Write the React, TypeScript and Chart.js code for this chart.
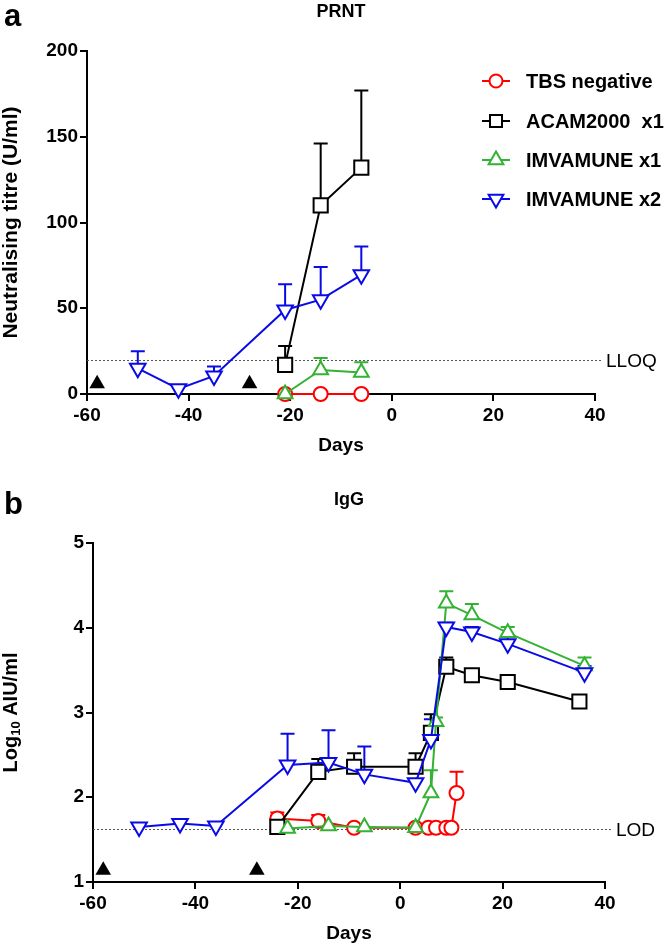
import React, { useEffect, useRef } from "react";
import { Chart, registerables } from "chart.js";
Chart.register(...registerables);

const FONT = "'Liberation Sans', Arial, Helvetica, sans-serif";

// ---------- shared ----------
const seriesNames = ["TBS negative", "ACAM2000  x1", "IMVAMUNE x1", "IMVAMUNE x2"];
const seriesColors = ["#ff0000", "#000000", "#33b233", "#0a0ae6"];
const seriesStyles = ["circle", "rect", "triangle", "triangle"];
const seriesRotations = [0, 0, 0, 180];
const seriesRadius = [7, 10, 8.5, 9];
const xTicks = [-60, -40, -20, 0, 20, 40];
const vaccinationDays = [-58, -28];

// ---------- panel a : PRNT ----------
const prntTbsDays = [-21, -14, -6];
const prntTbs = [0, 0, 0];
const prntTbsErr = [0, 0, 0];
const prntAcamDays = [-21, -14, -6];
const prntAcam = [17, 110, 132];
const prntAcamErr = [11, 36, 45];
const prntImv1Days = [-21, -14, -6];
const prntImv1 = [0, 14, 12.5];
const prntImv1Err = [0, 7, 6];
const prntImv2Days = [-50, -42, -35, -21, -14, -6];
const prntImv2 = [15, 3, 10.5, 49, 55, 69.5];
const prntImv2Err = [10, 0, 5.5, 15, 19, 16.5];
const prntYTicks = [0, 50, 100, 150, 200];
const prntArrowY = 6;
const prntLLOQ = 20;

// ---------- panel b : IgG ----------
const iggTbsDays = [-24, -16, -9, 3, 5.5, 7, 9, 10, 11];
const iggTbs = [1.75, 1.72, 1.64, 1.64, 1.64, 1.64, 1.64, 1.64, 2.05];
const iggTbsErr = [0.07, 0.07, 0, 0, 0, 0, 0, 0, 0.25];
const iggAcamDays = [-24, -16, -9, 3, 6, 9, 14, 21, 35];
const iggAcam = [1.65, 2.3, 2.36, 2.36, 2.76, 3.54, 3.44, 3.36, 3.13];
const iggAcamErr = [0, 0.15, 0.16, 0.16, 0.22, 0.11, 0.04, 0.03, 0.02];
const iggImv1Days = [-22, -14, -7, 3, 6, 7, 9, 14, 21, 36];
const iggImv1 = [1.63, 1.66, 1.65, 1.64, 2.05, 2.89, 4.29, 4.15, 3.94, 3.55];
const iggImv1Err = [0, 0, 0, 0, 0.27, 0.05, 0.14, 0.13, 0.07, 0.1];
const iggImv2Days = [-51, -43, -36, -22, -14, -7, 3, 6, 9, 14, 21, 36];
const iggImv2 = [1.65, 1.69, 1.66, 2.38, 2.41, 2.27, 2.17, 2.68, 4.01, 3.95, 3.81, 3.47];
const iggImv2Err = [0, 0, 0, 0.37, 0.38, 0.33, 0.03, 0.24, 0.05, 0.06, 0.08, 0.08];
const iggYTicks = [1, 2, 3, 4, 5];
const iggArrowY = 1.14;
const iggLOD = 1.63;

type Spec = {
  top: number;
  height: number;
  area: { left: number; right: number; top: number; bottom: number };
  letter: string;
  letterY: number;
  title: string;
  titleY: number;
  yMin: number;
  yMax: number;
  yTicks: number[];
  days: number[][];
  values: number[][];
  errors: number[][];
  arrowY: number;
  refValue: number;
  refLabel: string;
  yTitle: { t: string; sub?: boolean }[];
  yTitleSize: number;
  legend: boolean;
};

const prntSpec: Spec = {
  top: 0,
  height: 470,
  area: { left: 87, right: 595, top: 51, bottom: 394 },
  letter: "a",
  letterY: 17,
  title: "PRNT",
  titleY: 12,
  yMin: 0,
  yMax: 200,
  yTicks: prntYTicks,
  days: [prntTbsDays, prntAcamDays, prntImv1Days, prntImv2Days],
  values: [prntTbs, prntAcam, prntImv1, prntImv2],
  errors: [prntTbsErr, prntAcamErr, prntImv1Err, prntImv2Err],
  arrowY: prntArrowY,
  refValue: prntLLOQ,
  refLabel: "LLOQ",
  yTitle: [{ t: "Neutralising titre (U/ml)" }],
  yTitleSize: 21,
  legend: true,
};

const iggSpec: Spec = {
  top: 470,
  height: 476,
  area: { left: 93, right: 605, top: 73, bottom: 412 },
  letter: "b",
  letterY: 35,
  title: "IgG",
  titleY: 30,
  yMin: 1,
  yMax: 5,
  yTicks: iggYTicks,
  days: [iggTbsDays, iggAcamDays, iggImv1Days, iggImv2Days],
  values: [iggTbs, iggAcam, iggImv1, iggImv2],
  errors: [iggTbsErr, iggAcamErr, iggImv1Err, iggImv2Err],
  arrowY: iggArrowY,
  refValue: iggLOD,
  refLabel: "LOD",
  yTitle: [{ t: "Log" }, { t: "10", sub: true }, { t: " AIU/ml" }],
  yTitleSize: 20,
  legend: false,
};

function drawMarker(
  ctx: CanvasRenderingContext2D,
  style: string,
  x: number,
  y: number,
  r: number,
  rot: number,
  color: string
) {
  ctx.save();
  ctx.translate(x, y);
  ctx.rotate((rot * Math.PI) / 180);
  ctx.beginPath();
  if (style === "circle") {
    ctx.arc(0, 0, r, 0, Math.PI * 2);
  } else if (style === "rect") {
    const s = r * Math.SQRT1_2;
    ctx.rect(-s, -s, 2 * s, 2 * s);
  } else {
    for (let k = 0; k < 3; k++) {
      const a = (k * 2 * Math.PI) / 3;
      const px = Math.sin(a) * r;
      const py = -Math.cos(a) * r;
      if (k === 0) ctx.moveTo(px, py);
      else ctx.lineTo(px, py);
    }
    ctx.closePath();
  }
  ctx.fillStyle = "#fff";
  ctx.fill();
  ctx.lineWidth = 2;
  ctx.strokeStyle = color;
  ctx.stroke();
  ctx.restore();
}

function buildConfig(spec: Spec): any {
  const order = [3, 2, 1, 0]; // index 0 drawn on top
  const datasets: any[] = order.map((s) => ({
    label: seriesNames[s],
    data: spec.days[s].map((d, i) => ({ x: d, y: spec.values[s][i] })),
    errors: spec.errors[s],
    showLine: true,
    borderColor: seriesColors[s],
    backgroundColor: "#fff",
    borderWidth: 2,
    pointStyle: seriesStyles[s],
    pointRotation: seriesRotations[s],
    pointRadius: seriesRadius[s],
    pointHoverRadius: seriesRadius[s],
    pointBorderWidth: 2,
    pointBackgroundColor: "#fff",
    pointBorderColor: seriesColors[s],
    clip: false,
  }));
  datasets.push({
    label: "vaccination",
    data: vaccinationDays.map((d) => ({ x: d, y: spec.arrowY })),
    showLine: false,
    pointStyle: "triangle",
    pointRadius: 9,
    pointHoverRadius: 9,
    pointBorderWidth: 0,
    pointBackgroundColor: "#000",
    pointBorderColor: "#000",
    clip: false,
  });

  const decor = {
    id: "decor",
    beforeDatasetsDraw(chart: any) {
      const ctx: CanvasRenderingContext2D = chart.ctx;
      const a = chart.chartArea;
      const ys = chart.scales.y;
      ctx.save();
      // reference line
      const ry = Math.round(ys.getPixelForValue(spec.refValue)) + 0.5;
      ctx.strokeStyle = "#555";
      ctx.lineWidth = 1;
      ctx.setLineDash([2, 2]);
      ctx.beginPath();
      ctx.moveTo(a.left, ry);
      ctx.lineTo(a.right + 6, ry);
      ctx.stroke();
      ctx.setLineDash([]);
      ctx.fillStyle = "#000";
      ctx.font = `19px ${FONT}`;
      ctx.textAlign = "left";
      ctx.textBaseline = "middle";
      ctx.fillText(spec.refLabel, a.right + 11, ry + 1);
      // error bars (upper only)
      chart.data.datasets.forEach((ds: any, i: number) => {
        const errs: number[] | undefined = ds.errors;
        if (!errs) return;
        const meta = chart.getDatasetMeta(i);
        ctx.strokeStyle = ds.borderColor;
        ctx.lineWidth = 2;
        meta.data.forEach((el: any, j: number) => {
          const e = errs[j];
          if (!e) return;
          const yTop = ys.getPixelForValue(ds.data[j].y + e);
          ctx.beginPath();
          ctx.moveTo(el.x, el.y);
          ctx.lineTo(el.x, yTop);
          ctx.moveTo(el.x - 7, yTop);
          ctx.lineTo(el.x + 7, yTop);
          ctx.stroke();
        });
      });
      ctx.restore();
    },
    afterDraw(chart: any) {
      const ctx: CanvasRenderingContext2D = chart.ctx;
      const a = chart.chartArea;
      const cx = (a.left + a.right) / 2;
      ctx.save();
      ctx.fillStyle = "#000";
      ctx.textBaseline = "middle";
      // panel letter
      ctx.font = `bold 31px ${FONT}`;
      ctx.textAlign = "left";
      ctx.fillText(spec.letter, 4, spec.letterY);
      // title
      ctx.font = `bold 18px ${FONT}`;
      ctx.textAlign = "center";
      ctx.fillText(spec.title, cx, spec.titleY);
      // x title
      ctx.font = `bold 19px ${FONT}`;
      ctx.fillText("Days", cx, a.bottom + 52);
      // y title
      ctx.save();
      ctx.translate(11, (a.top + a.bottom) / 2);
      ctx.rotate(-Math.PI / 2);
      const mainFont = `bold ${spec.yTitleSize}px ${FONT}`;
      const subFont = `bold 13px ${FONT}`;
      let total = 0;
      spec.yTitle.forEach((p) => {
        ctx.font = p.sub ? subFont : mainFont;
        total += ctx.measureText(p.t).width;
      });
      let x = -total / 2;
      ctx.textAlign = "left";
      spec.yTitle.forEach((p) => {
        ctx.font = p.sub ? subFont : mainFont;
        ctx.fillText(p.t, x, p.sub ? 5 : 0);
        x += ctx.measureText(p.t).width;
      });
      ctx.restore();
      // legend
      if (spec.legend) {
        const rows = [81, 121, 160, 199];
        for (let s = 0; s < 4; s++) {
          const y = rows[s];
          ctx.strokeStyle = seriesColors[s];
          ctx.lineWidth = 2;
          ctx.beginPath();
          ctx.moveTo(482, y);
          ctx.lineTo(510, y);
          ctx.stroke();
          const r = s === 0 ? 6.5 : s === 1 ? 8.5 : 8.5;
          drawMarker(ctx, seriesStyles[s], 496, y, r, seriesRotations[s], seriesColors[s]);
          ctx.fillStyle = "#000";
          ctx.font = `bold 20px ${FONT}`;
          ctx.textAlign = "left";
          ctx.textBaseline = "middle";
          ctx.fillText(seriesNames[s], 526, y + 1);
        }
      }
      ctx.restore();
    },
  };

  const W = 666;
  const H = spec.height;
  const tickFont = { family: FONT, size: 19, weight: "bold" as const };

  return {
    type: "scatter",
    data: { datasets },
    options: {
      responsive: false,
      maintainAspectRatio: false,
      animation: false,
      devicePixelRatio: 1,
      events: [],
      layout: {
        padding: { left: 0, right: W - spec.area.right, top: spec.area.top, bottom: 0 },
      },
      plugins: {
        legend: { display: false },
        tooltip: { enabled: false },
        title: { display: false },
      },
      scales: {
        x: {
          type: "linear",
          min: -60,
          max: 40,
          afterFit: (s: any) => {
            s.height = H - spec.area.bottom;
          },
          afterBuildTicks: (s: any) => {
            s.ticks = xTicks.map((v) => ({ value: v }));
          },
          ticks: {
            font: tickFont,
            color: "#000",
            padding: 3,
            maxRotation: 0,
            autoSkip: false,
          },
          grid: {
            display: true,
            drawOnChartArea: false,
            drawTicks: true,
            tickLength: 7,
            color: "#000",
            lineWidth: 2,
          },
          border: { display: true, color: "#000", width: 2 },
        },
        y: {
          type: "linear",
          min: spec.yMin,
          max: spec.yMax,
          afterFit: (s: any) => {
            s.width = spec.area.left;
          },
          afterBuildTicks: (s: any) => {
            s.ticks = spec.yTicks.map((v) => ({ value: v }));
          },
          ticks: {
            font: tickFont,
            color: "#000",
            padding: 2,
            autoSkip: false,
          },
          grid: {
            display: true,
            drawOnChartArea: false,
            drawTicks: true,
            tickLength: 7,
            color: "#000",
            lineWidth: 2,
          },
          border: { display: true, color: "#000", width: 2 },
        },
      },
    },
    plugins: [decor],
  };
}

function Panel({ spec }: { spec: Spec }) {
  const ref = useRef<HTMLCanvasElement>(null);
  useEffect(() => {
    const chart = new Chart(ref.current as HTMLCanvasElement, buildConfig(spec));
    return () => chart.destroy();
  }, [spec]);
  return (
    <canvas
      ref={ref}
      width={666}
      height={spec.height}
      style={{
        position: "absolute",
        left: 0,
        top: spec.top,
        width: 666,
        height: spec.height,
        display: "block",
      }}
    />
  );
}

export default function App() {
  return (
    <div
      style={{
        position: "absolute",
        left: 0,
        top: 0,
        width: 666,
        height: 946,
        background: "#fff",
        overflow: "hidden",
      }}
    >
      <Panel spec={prntSpec} />
      <Panel spec={iggSpec} />
    </div>
  );
}
